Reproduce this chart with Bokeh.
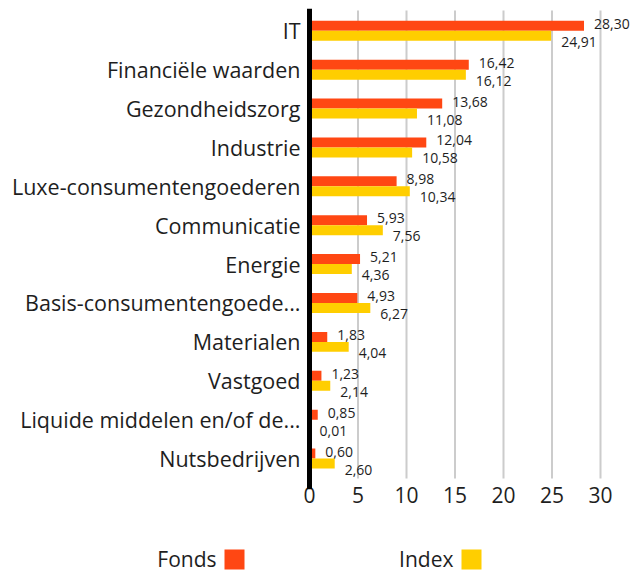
from bokeh.plotting import figure
from bokeh.models import Range1d, FixedTicker, ColumnDataSource, Span
from bokeh.layouts import column
from bokeh.embed import file_html
from bokeh.resources import INLINE
from bokeh.core.properties import value

# ---- data ----
categories = ["IT", "Financiële waarden", "Gezondheidszorg", "Industrie",
              "Luxe-consumentengoederen", "Communicatie", "Energie",
              "Basis-consumentengoede...", "Materialen", "Vastgoed",
              "Liquide middelen en/of de...", "Nutsbedrijven"]
fonds = [28.30, 16.42, 13.68, 12.04, 8.98, 5.93, 5.21, 4.93, 1.83, 1.23, 0.85, 0.60]
index_vals = [24.91, 16.12, 11.08, 10.58, 10.34, 7.56, 4.36, 6.27, 4.04, 2.14, 0.01, 2.60]
x_ticks = [0, 5, 10, 15, 20, 25, 30]
series = ["Fonds", "Index"]
colors = ["#ff4713", "#ffce00"]

FONT = "Open Sans"
TXT = "#1e1e1e"

pos = list(range(len(categories)))
bar_h = 0.257
half = bar_h / 2

def fmt(v):
    return f"{v:.2f}".replace(".", ",")

PX = 9.7  # pixels per unit on the value axis
p = figure(width=633, height=524, x_range=Range1d(-309 / PX, 324 / PX),
           y_range=Range1d(11.797, -0.5746),
           output_backend="svg", toolbar_location=None,
           min_border_left=0, min_border_right=0,
           min_border_top=8, min_border_bottom=35,
           y_axis_location=None)
p.outline_line_color = None
p.grid.visible = False
p.background_fill_color = "white"
p.border_fill_color = "white"

# grid lines
gx = x_ticks[1:]
p.segment(x0=gx, x1=gx, y0=[-0.523] * len(gx), y1=[11.514] * len(gx),
          line_color="#cccccc", line_width=2)

offsets = [-half, half]
label_dy = [-2, 6]
for vals, name, col, off, dy in zip([fonds, index_vals], series, colors, offsets, label_dy):
    src = ColumnDataSource(dict(
        y=[q + off for q in pos], v=vals, lab=[fmt(v) for v in vals]))
    p.hbar(y="y", left=0, right="v", height=bar_h, source=src,
           fill_color=col, line_color=None)
    p.text(x="v", y="y", text="lab", source=src, x_offset=10, y_offset=dy,
           text_font=value(FONT), text_font_size="14px",
           text_baseline="middle", text_align="left", text_color=TXT)

# category labels (left of the zero line)
cat_src = ColumnDataSource(dict(x=[0] * len(pos), y=pos, t=categories))
p.text(x="x", y="y", text="t", source=cat_src, x_offset=-9,
       text_font=value(FONT), text_font_size="21.5px",
       text_baseline="middle", text_align="right", text_color=TXT)

# zero line
p.add_layout(Span(location=0, dimension="height", line_color="black", line_width=5))

xax = p.xaxis[0]
xax.ticker = FixedTicker(ticks=x_ticks)
xax.axis_line_color = None
xax.major_tick_line_color = None
xax.minor_tick_line_color = None
xax.major_tick_out = 0
xax.major_tick_in = 0
xax.major_label_standoff = -3
xax.major_label_text_font = FONT
xax.major_label_text_font_size = "21px"
xax.major_label_text_color = TXT

# legend (label then square)
leg = figure(width=633, height=49, x_range=Range1d(0, 633), y_range=Range1d(49, 0),
             output_backend="svg", toolbar_location=None,
             min_border=0, min_border_left=0, min_border_right=0,
             min_border_top=0, min_border_bottom=0,
             x_axis_location=None, y_axis_location=None)
leg.outline_line_color = None
leg.grid.visible = False
leg.rect(x=[234, 471], y=[35, 35], width=20, height=20, fill_color=colors, line_color=None)
leg.text(x=[216, 453], y=[34, 34], text=series, text_font=value(FONT),
         text_font_size="21px", text_align="right", text_baseline="middle",
         text_color=TXT)

layout = column(p, leg, spacing=0)
open("out.html", "w").write(file_html(layout, INLINE))
